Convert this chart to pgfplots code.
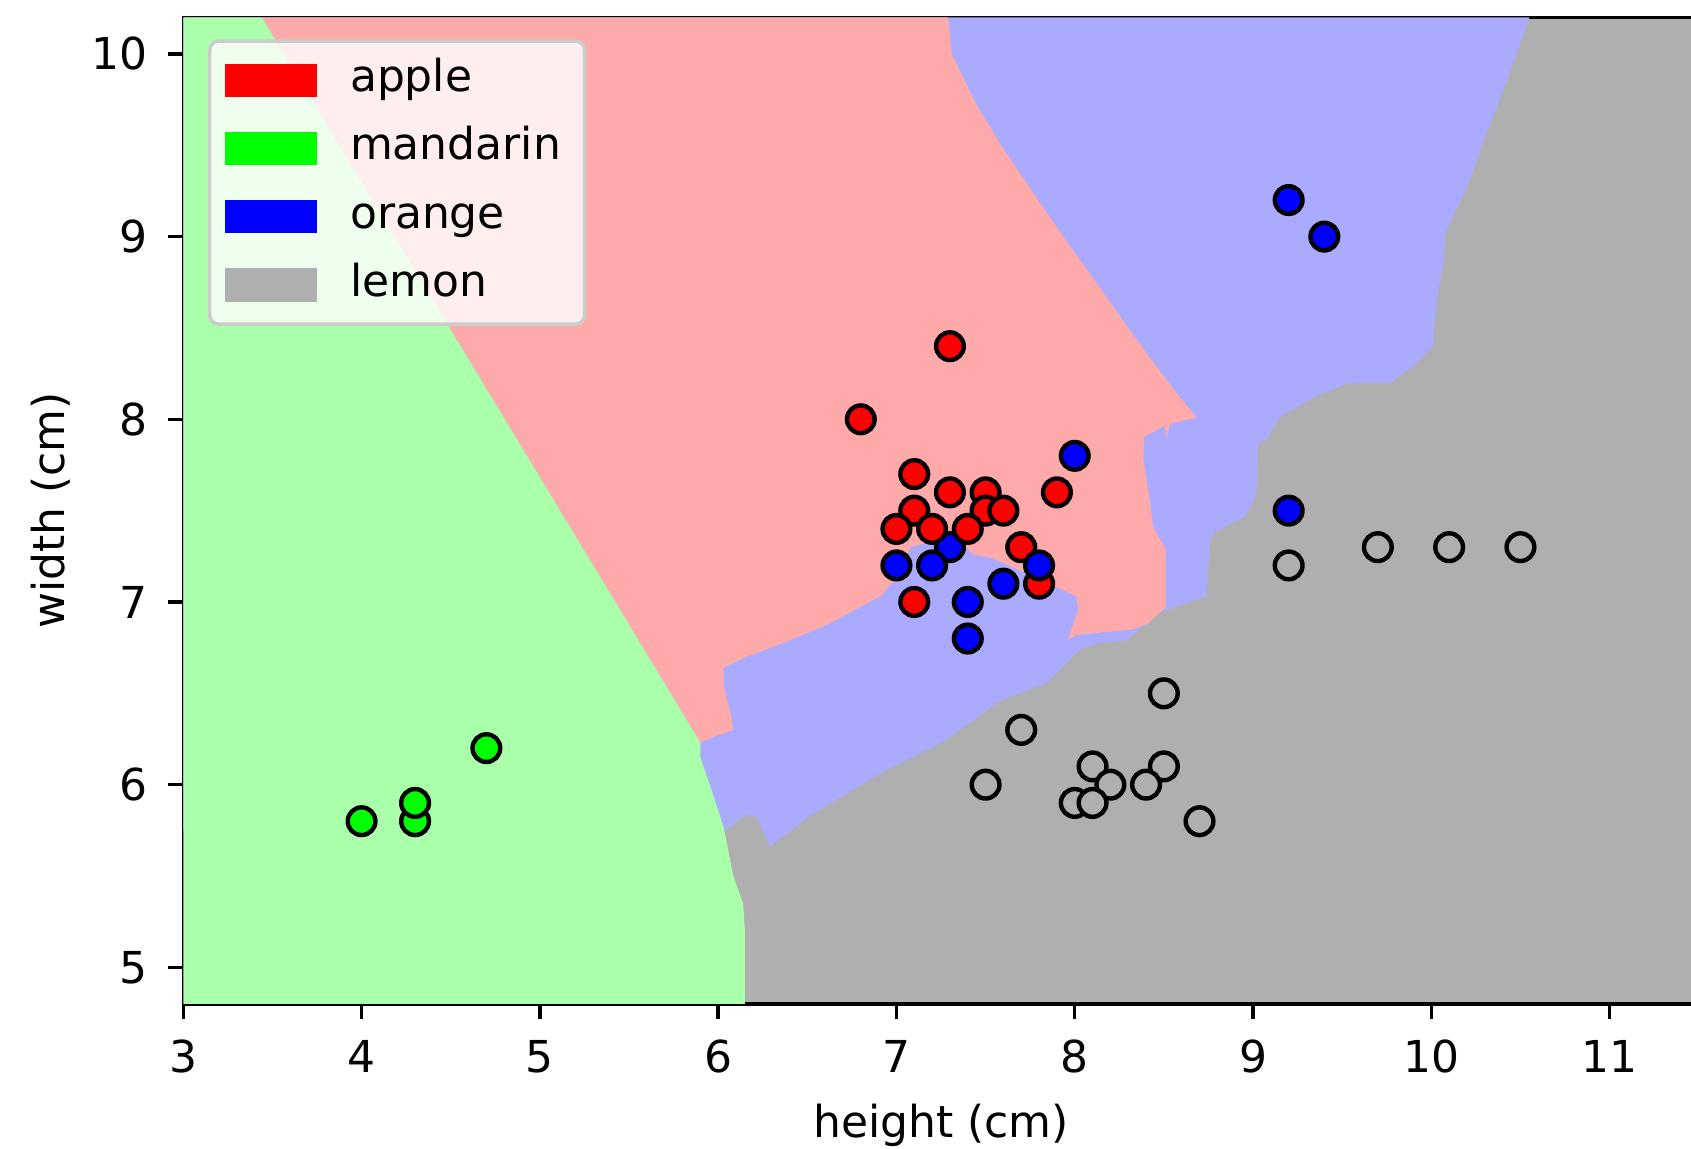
\documentclass[border=0pt]{standalone}
\usepackage{fontspec}
\setmainfont{DejaVu Sans}
\usepackage{pgfplots}
\pgfplotsset{compat=1.18}
\definecolor{lred}{HTML}{FFAAAA}
\definecolor{lgreen}{HTML}{AAFFAA}
\definecolor{lblue}{HTML}{AAAAFF}
\definecolor{lgray}{HTML}{AFAFAF}
\definecolor{bgreen}{HTML}{00FF00}
\begin{document}
\begin{tikzpicture}
\begin{axis}[
  at={(0,0)}, anchor=south west,
  width=344.4pt, height=224.2pt, scale only axis,
  xmin=3, xmax=11.5, ymin=4.8, ymax=10.2,
  xtick={3,4,5,6,7,8,9,10,11}, ytick={5,6,7,8,9,10},
  tick align=outside, major tick length=3.5pt, tick pos=left,
  tick style={black, line width=0.8pt},
  axis line style={black, line width=0.8pt},
  /pgf/number format/assume math mode=true,
  ticklabel style={font=\fontsize{10}{12}\selectfont},
  xticklabel style={yshift=-1.2pt},
  yticklabel style={xshift=-1.2pt},
  xlabel={height (cm)}, ylabel={width (cm)},
  label style={font=\fontsize{10}{12}\selectfont},
  xlabel style={at={(axis description cs:0.5,-0.1231)}, anchor=center},
  ylabel style={at={(axis description cs:-0.0874,0.5)}, anchor=center, rotate=0},
  axis background/.style={fill=lgray},
  legend cell align=left,
  legend image code/.code={\fill[#1, fill opacity=1, draw=none, sharp corners] (0pt,-3.8pt) rectangle (21pt,3.8pt);},
  legend style={at={(axis description cs:0,1)}, anchor=north west, xshift=5.6pt, yshift=-5.0pt,
    fill=white, fill opacity=0.8, text opacity=1, draw=black!20, line width=0.8pt,
    rounded corners=2pt, inner xsep=3.4pt, inner ysep=1.15pt, row sep=0pt, column sep=5.5pt,
    font=\fontsize{10}{12}\selectfont,
    nodes={inner xsep=2pt, inner ysep=2.75pt, text height=7.6pt, text depth=2.4pt}},
]
% decision regions
\addplot[fill=lblue, draw=none, forget plot] coordinates {
(3,10.2) (10.55,10.2) (10.54,10.17) (10.42,9.84) (10.31,9.565) (10.20,9.27) (10.08,9.02)
(10.07,8.87) (10.03,8.65) (10.01,8.40) (9.90,8.29) (9.77,8.20) (9.545,8.20) (9.34,8.12)
(9.15,8.01) (9.08,7.89) (9.03,7.87) (9.02,7.595) (8.96,7.47) (8.84,7.41) (8.78,7.375)
(8.76,7.34) (8.74,7.03) (8.47,6.94) (8.29,6.79) (8.14,6.775) (8.03,6.74) (7.84,6.555)
(7.58,6.46) (7.28,6.245) (6.91,6.06) (6.53,5.84) (6.29,5.66) (6.22,5.82) (6.16,5.84)
(6.04,5.75) (3,5.75)};
\addplot[fill=lred, draw=none, forget plot] coordinates {
(3.44,10.2) (7.29,10.2) (7.31,10.0) (7.45,9.72) (7.60,9.48) (7.78,9.22) (7.95,8.98)
(8.12,8.75) (8.30,8.50) (8.45,8.30) (8.59,8.12) (8.685,8.01) (8.535,7.975) (8.515,7.90)
(8.505,7.965) (8.39,7.905) (8.385,7.78) (8.42,7.56) (8.44,7.41) (8.51,7.29) (8.51,6.97)
(8.405,6.88) (8.33,6.85) (8.01,6.82) (7.96,6.79) (8.02,6.96) (8.01,7.03) (7.90,7.08)
(7.54,7.24) (7.43,7.26) (7.39,7.30) (7.23,7.34) (7.08,7.30) (6.99,7.12) (6.91,7.03)
(6.87,7.01) (6.59,6.865) (6.35,6.77) (6.16,6.70) (6.03,6.64) (6.03,6.54) (6.07,6.39)
(6.085,6.30) (5.97,6.26) (5.90,6.23)};
\addplot[fill=lgreen, draw=none, forget plot] coordinates {
(3,10.2) (3.44,10.2) (5.90,6.23) (5.90,6.15) (5.97,5.95) (6.03,5.77) (6.085,5.50)
(6.14,5.35) (6.15,5.2) (6.15,4.8) (3,4.8)};
% points
\pgfplotsset{pts/.style={only marks, mark=*, mark size=3.15pt, forget plot,
  mark options={draw=black, line width=1pt, fill=#1}}}
\addplot[pts=lgray] coordinates {(9.2,7.2) (9.7,7.3) (10.1,7.3) (10.5,7.3) (8.5,6.5) (7.7,6.3)
(8.1,6.1) (8.5,6.1) (7.5,6.0) (8.2,6.0) (8.4,6.0) (8.0,5.9) (8.1,5.9) (8.7,5.8)};
\addplot[pts=bgreen] coordinates {(4.0,5.8) (4.3,5.8) (4.3,5.9) (4.7,6.2)};
\addplot[pts=blue] coordinates {(7.3,7.3) (7.0,7.2) (7.2,7.2) (7.4,7.0) (7.4,6.8) (8.0,7.8)
(9.2,9.2) (9.4,9.0) (9.2,7.5) (7.6,7.1)};
\addplot[pts=red] coordinates {(7.3,8.4) (6.8,8.0) (7.1,7.7) (7.3,7.6) (7.5,7.6) (7.9,7.6)
(7.1,7.5) (7.5,7.5) (7.6,7.5) (7.0,7.4) (7.2,7.4) (7.4,7.4) (7.7,7.3) (7.8,7.1) (7.1,7.0)};
\addplot[pts=blue] coordinates {(7.8,7.2)};
% legend
\addlegendimage{fill=red}
\addlegendentry{apple}
\addlegendimage{fill=bgreen}
\addlegendentry{mandarin\hspace{2.6pt}}
\addlegendimage{fill=blue}
\addlegendentry{orange}
\addlegendimage{fill=lgray}
\addlegendentry{lemon}
\end{axis}
\pgfresetboundingbox
\path[use as bounding box] (-41.66pt,-32.95pt) rectangle (342.64pt,228.15pt);
\end{tikzpicture}
\end{document}
